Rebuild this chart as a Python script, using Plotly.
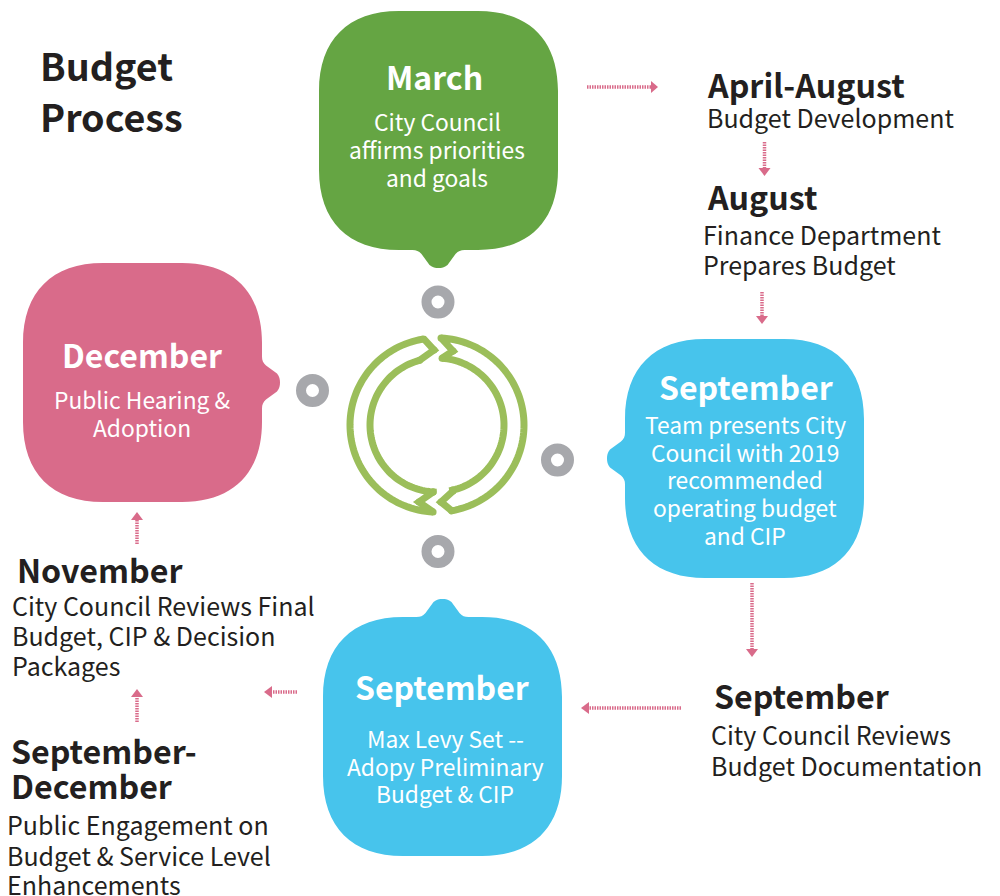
import numpy as np
import plotly.graph_objects as go

FONT = "Noto Sans CJK SC"
INK = "#231F20"
GREEN, PINK, CYAN, LEAF, GREY = "#65A543", "#D96B8A", "#47C4EC", "#9BBE5A", "#A7A8AC"

title_lines = [("Budget", 40, 64), ("Process", 40, 115)]

# box: x0, y0, colour, tail direction (0 top, 1 right, 2 bottom, 3 left)
bubbles = [(319, 11, GREEN, 2), (23, 263, PINK, 1), (625, 339, CYAN, 3), (323, 617, CYAN, 0)]
rings = [(438, 302), (312.5, 390.5), (557.5, 460), (438, 551.5)]

# text, x, y, size, bold
bubble_text = [
    ("March", 434.5, 76, 32, True), ("City Council", 437, 121, 22.8, False),
    ("affirms priorities", 436.5, 149, 22.8, False), ("and goals", 437, 177, 22.8, False),
    ("December", 142, 354, 32, True), ("Public Hearing &", 142.5, 399, 22.8, False),
    ("Adoption", 142, 427, 22.8, False),
    ("September", 746, 386, 32, True), ("Team presents City", 745, 424, 22.8, False),
    ("Council with 2019", 745, 452, 22.8, False), ("recommended", 745, 479, 22.8, False),
    ("operating budget", 745, 507, 22.8, False), ("and CIP", 745, 535, 22.8, False),
    ("September", 442, 686, 32, True), ("Max Levy Set --", 445, 738, 22.8, False),
    ("Adopy Preliminary", 445, 766, 22.8, False), ("Budget & CIP", 445, 793, 22.8, False),
]
side_text = [
    ("April-August", 707, 84, 32.2, True), ("Budget Development", 707, 117, 25, False),
    ("August", 707, 196, 32.2, True), ("Finance Department", 702.5, 234, 25, False),
    ("Prepares Budget", 702.5, 264, 25, False),
    ("September", 714, 695, 32.2, True), ("City Council Reviews", 711, 734, 25, False),
    ("Budget Documentation", 711, 765, 25, False),
    ("November", 16.5, 569, 32.2, True), ("City Council Reviews Final", 12, 605, 25, False),
    ("Budget, CIP & Decision", 12, 635, 25, False), ("Packages", 12, 665, 25, False),
    ("September-", 11, 750, 32.2, True), ("December", 11, 785, 32.2, True),
    ("Public Engagement on", 7, 824, 25, False), ("Budget & Service Level", 7, 855, 25, False),
    ("Enhancements", 7, 884, 25, False),
]
# tail start x, y, shaft end x, y, arrow tip x, y
arrows = [
    (587, 87, 651, 87, 658, 87), (764.5, 142, 764.5, 168, 764.5, 176),
    (762, 292, 762, 316, 762, 324), (752, 583, 752, 649, 752, 657),
    (681, 708, 589, 708, 581, 708), (297, 692, 272, 692, 264, 692),
    (137, 722, 137, 697, 137, 689), (137, 544, 137, 520, 137, 512),
]
cx, cy, r_out, r_in = 437, 425, 87, 67


def bubble_path(x0, y0, side, size=239, r=80, k=29, tail=18, half=26):
    h = size / 2
    mx, my = x0 + h, y0 + h
    turn = {0: lambda u, v: (u, v), 1: lambda u, v: (-v, u),
            2: lambda u, v: (-u, -v), 3: lambda u, v: (v, -u)}[side]
    P = lambda u, v: "{:.1f},{:.1f}".format(mx + turn(u, v)[0], my + turn(u, v)[1])
    # drawn with the tail on the local top edge, then rotated to its side
    d = "M" + P(-h + r, -h) + " L" + P(-half, -h)
    d += " C" + P(-half + 4, -h) + " " + P(-half + 6, -h - 1) + " " + P(-half + 9, -h - 4)
    d += " L" + P(-9, -h - tail + 3)
    d += " C" + P(-6, -h - tail + 0.5) + " " + P(-3, -h - tail) + " " + P(0, -h - tail)
    d += " C" + P(3, -h - tail) + " " + P(6, -h - tail + 0.5) + " " + P(9, -h - tail + 3)
    d += " L" + P(half - 9, -h - 4)
    d += " C" + P(half - 6, -h - 1) + " " + P(half - 4, -h) + " " + P(half, -h)
    d += " L" + P(h - r, -h)
    d += " C" + P(h - k, -h) + " " + P(h, -h + k) + " " + P(h, -h + r)
    d += " L" + P(h, h - r)
    d += " C" + P(h, h - k) + " " + P(h - k, h) + " " + P(h - r, h)
    d += " L" + P(-h + r, h)
    d += " C" + P(-h + k, h) + " " + P(-h, h - k) + " " + P(-h, h - r)
    d += " L" + P(-h, -h + r)
    d += " C" + P(-h, -h + k) + " " + P(-h + k, -h) + " " + P(-h + r, -h) + " Z"
    return d


def arc(x_a, y_a, x_b, y_b, radius, clockwise):
    a = np.arctan2(y_a - cy, x_a - cx)
    b = np.arctan2(y_b - cy, x_b - cx)
    if clockwise:
        while b < a:
            b += 2 * np.pi
    else:
        while b > a:
            b -= 2 * np.pi
    t = np.linspace(a, b, 70)
    return list(zip(cx + radius * np.cos(t), cy + radius * np.sin(t)))


right_arrow = (
    arc(441, 338, 452, 513, r_out, True)
    + [(441, 502), (453, 491)]
    + arc(453, 491, 442, 359, r_in, False)
    + [(453, 351), (441, 338)]
)
left_arrow = (
    arc(423, 338, 433, 514, r_out, False)
    + [(419, 502), (433, 492)]
    + arc(433, 492, 420, 362, r_in, True)
    + [(434, 350), (423, 338)]
)

fig = go.Figure()
shapes = []
for x0, y0, colour, side in bubbles:
    shapes.append(dict(type="path", path=bubble_path(x0, y0, side), fillcolor=colour, line_width=0))
for x, y in rings:
    shapes.append(dict(type="circle", x0=x - 11.5, x1=x + 11.5, y0=y - 11.5, y1=y + 11.5,
                       line=dict(color=GREY, width=10), fillcolor="white"))
for x0, y0, x1, y1, xt, yt in arrows:
    shapes.append(dict(type="line", x0=x0, y0=y0, x1=x1, y1=y1,
                       line=dict(color=PINK, width=3.5, dash="1.5px,1px")))
    dx, dy = np.sign(xt - x1), np.sign(yt - y1)
    px, py = -dy * 6, dx * 6
    shapes.append(dict(type="path", fillcolor=PINK, line_width=0,
                       path="M{},{} L{},{} L{},{} Z".format(xt, yt, x1 + px, y1 + py, x1 - px, y1 - py)))
fig.update_layout(shapes=shapes)

for pts in (right_arrow, left_arrow):
    fig.add_trace(go.Scatter(x=[p[0] for p in pts], y=[p[1] for p in pts], mode="lines",
                             line=dict(color=LEAF, width=7, simplify=False),
                             hoverinfo="skip", showlegend=False))
    corners = [pts[0], pts[69], pts[70], pts[71], pts[72], pts[141], pts[142]]
    fig.add_trace(go.Scatter(x=[p[0] for p in corners], y=[p[1] for p in corners], mode="markers",
                             marker=dict(color=LEAF, size=7), hoverinfo="skip", showlegend=False))


def label(text, x, y, size, bold, colour, anchor):
    fig.add_annotation(x=x, y=y, text="<b>{}</b>".format(text) if bold else text, showarrow=False,
                       xanchor=anchor, yanchor="middle", borderpad=0, borderwidth=0,
                       font=dict(family=FONT, size=size, color=colour))


for text, x, y in title_lines:
    label(text, x, y, 37.7, True, INK, "left")
for text, x, y, size, bold in bubble_text:
    label(text, x, y, size, bold, "white", "center")
for text, x, y, size, bold in side_text:
    label(text, x, y, size, bold, INK, "left")

fig.update_layout(
    width=1000, height=896, margin=dict(l=0, r=0, t=0, b=0),
    paper_bgcolor="white", plot_bgcolor="white", showlegend=False,
    xaxis=dict(range=[0, 1000], visible=False, fixedrange=True),
    yaxis=dict(range=[896, 0], visible=False, fixedrange=True),
)
fig.write_html("out.html", config=dict(displayModeBar=False),
               post_script="document.body.style.margin='0';document.body.style.overflow='hidden';")
